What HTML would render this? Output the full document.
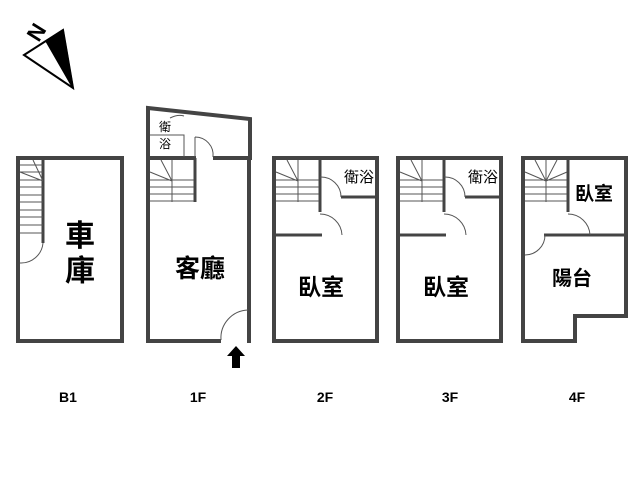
<!DOCTYPE html>
<html><head><meta charset="utf-8"><style>body{margin:0;background:#fff}svg{display:block}</style></head><body>
<svg width="640" height="480" viewBox="0 0 640 480" xmlns="http://www.w3.org/2000/svg" font-family="'Liberation Sans','Noto Sans CJK TC',sans-serif">
<rect width="640" height="480" fill="#fff"/>
<!-- compass -->
<polygon points="24,55 63,30 73,88" fill="#fff" stroke="#000" stroke-width="2"/>
<polygon points="46,41 63,30 73,88" fill="#000" stroke="#000" stroke-width="1.5"/>
<text x="36" y="40" font-size="22" font-weight="bold" transform="rotate(-58 36 32)" text-anchor="middle">N</text>
<g fill="none" stroke="#444" stroke-width="4" stroke-linejoin="miter">
<rect x="18" y="158" width="104" height="183"/>
<rect x="148" y="158" width="101" height="183"/>
<polygon points="148,108 250,119 250,158 148,158"/>
<rect x="274" y="158" width="103" height="183"/>
<rect x="398" y="158" width="103" height="183"/>
<polygon points="523,158 626,158 626,316 575,316 575,341 523,341"/>
</g>
<g stroke="#fff" stroke-width="6">
<line x1="196" y1="158" x2="213" y2="158"/>
<line x1="221" y1="341" x2="247" y2="341"/>
</g>
<g fill="none" stroke="#444" stroke-width="3">
<line x1="43" y1="160" x2="43" y2="243"/>
<line x1="195" y1="158" x2="195" y2="202"/>
<line x1="320" y1="158" x2="320" y2="212"/>
<line x1="341" y1="197" x2="376" y2="197"/>
<line x1="276" y1="235" x2="322" y2="235"/>
<line x1="444" y1="158" x2="444" y2="212"/>
<line x1="465" y1="197" x2="500" y2="197"/>
<line x1="400" y1="235" x2="446" y2="235"/>
<line x1="568" y1="158" x2="568" y2="212"/>
<line x1="544" y1="235" x2="625" y2="235"/>
</g>
<g fill="none" stroke="#555" stroke-width="1">
<path d="M20,165 H43 M20,172 H43 M20,180 H43 M20,187 H43 M20,195 H43 M20,202 H43 M20,210 H43 M20,217 H43 M20,225 H43 M20,233 H43"/>
<path d="M20,172 L43,181 M33,160 L43,181"/>
<path d="M150,180 H194 M150,187 H194 M150,194 H194 M150,201 H194 M172,160 V202 M150,172 L172,181 M161,160 L172,181"/>
<path d="M276,180 H319 M276,187 H319 M276,194 H319 M276,201 H319 M298,160 V202 M276,172 L298,181 M287,160 L298,181"/>
<path d="M400,180 H443 M400,187 H443 M400,194 H443 M400,201 H443 M422,160 V202 M400,172 L422,181 M411,160 L422,181"/>
<path d="M525,180 H567 M525,187 H567 M525,194 H567 M525,201 H567 M546,160 V202 M525,172 L546,181 M535,160 L546,181 M546,181 L557,160 M546,181 L567,172"/>
<path d="M150,135 H184 V157 M170,118 Q178,114 184,116"/>
<path d="M20,263 A22,22 0 0 0 43,243"/>
<path d="M195,137 A18,18 0 0 1 213,157 M195,137 V157"/>
<path d="M221,340 A28,28 0 0 1 248,310"/>
<path d="M320,177 A20,20 0 0 1 341,197"/>
<path d="M320,214 A22,22 0 0 1 342,235"/>
<path d="M444,177 A20,20 0 0 1 465,197"/>
<path d="M444,214 A22,22 0 0 1 466,235"/>
<path d="M568,214 A22,22 0 0 1 590,235"/>
<path d="M525,255 A20,20 0 0 0 545,235"/>
</g>
<polygon points="236,346 227,356 232,356 232,368 240,368 240,356 245,356" fill="#000"/>
<g fill="#000" text-anchor="middle" font-weight="bold">
<text x="80" y="246" font-size="30">車</text>
<text x="80" y="281" font-size="30">庫</text>
<text x="200" y="277" font-size="25">客廳</text>
<text x="321" y="295" font-size="23">臥室</text>
<text x="446" y="295" font-size="23">臥室</text>
<text x="359" y="182" font-size="15" font-weight="normal">衛浴</text>
<text x="483" y="182" font-size="15" font-weight="normal">衛浴</text>
<text x="594" y="200" font-size="19">臥室</text>
<text x="572" y="285" font-size="20">陽台</text>
<text x="165" y="131" font-size="12" font-weight="normal">衛</text>
<text x="165" y="148" font-size="12" font-weight="normal">浴</text>
<g font-size="14">
<text x="68" y="402">B1</text>
<text x="198" y="402">1F</text>
<text x="325" y="402">2F</text>
<text x="450" y="402">3F</text>
<text x="577" y="402">4F</text>
</g>
</g>
</svg>
</body></html>
